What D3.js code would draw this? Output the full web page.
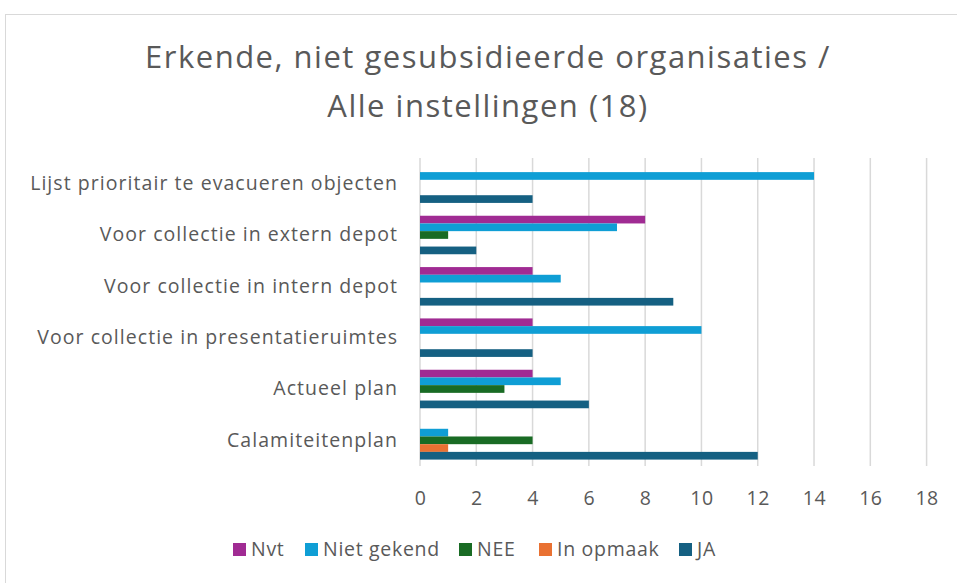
<!DOCTYPE html>
<html><head><meta charset="utf-8">
<script src="https://cdn.jsdelivr.net/npm/d3@7"></script>
<style>html,body{margin:0;padding:0;background:#fff;}svg{display:block;}</style>
</head><body>
<script>
const categories = ["Lijst prioritair te evacueren objecten","Voor collectie in extern depot","Voor collectie in intern depot","Voor collectie in presentatieruimtes","Actueel plan","Calamiteitenplan"];
const seriesNames = ["Nvt","Niet gekend","NEE","In opmaak","JA"];
const seriesColors = ["#A02B93","#0F9ED5","#196B24","#E97132","#156082"];
const nvt        = [0,8,4,4,4,0];
const nietGekend = [14,7,5,10,5,1];
const nee        = [0,1,0,0,3,4];
const inOpmaak   = [0,0,0,0,0,1];
const ja         = [4,2,9,4,6,12];
const seriesValues = [nvt, nietGekend, nee, inOpmaak, ja];
const xTicks = [0,2,4,6,8,10,12,14,16,18];
const titleLines = ["Erkende, niet gesubsidieerde organisaties /","Alle instellingen (18)"];

(function(){
const W = 957, H = 583;
const font = "'Open Sans', sans-serif";
const svg = d3.select("body").append("svg").attr("width", W).attr("height", H);
svg.append("rect").attr("x",5.5).attr("y",14.5).attr("width",W).attr("height",H).attr("fill","#fff").attr("stroke","#D9D9D9");

const pl = 420, pr = 926.6, pt = 158, pb = 466;
const x = d3.scaleLinear().domain([0,18]).range([pl,pr]);
const y0 = d3.scaleBand().domain(categories).range([pt,pb]).paddingInner(0.25).paddingOuter(0.125);
const y1 = d3.scaleBand().domain(seriesNames).range([0,y0.bandwidth()]);

svg.append("g").selectAll("line").data(xTicks).join("line")
  .attr("x1",d=>x(d)).attr("x2",d=>x(d)).attr("y1",pt).attr("y2",pb)
  .attr("stroke","#D9D9D9").attr("stroke-width",1.5);

const g = svg.append("g");
categories.forEach((c,ci)=>{
  seriesNames.forEach((s,si)=>{
    const v = seriesValues[si][ci];
    if (v>0) g.append("rect").attr("x",x(0)).attr("y",y0(c)+y1(s)).attr("width",x(v)-x(0)).attr("height",y1.bandwidth()).attr("fill",seriesColors[si]);
  });
});

const xAxis = d3.axisBottom(x).tickValues(xTicks).tickSize(0).tickPadding(0);
const ax = svg.append("g").attr("transform",`translate(0,${pb})`).call(xAxis);
ax.select(".domain").remove();
ax.selectAll("text").attr("dy",null).attr("y",39).attr("fill","#595959").style("font-family",font).style("font-size","19.5px").style("letter-spacing","0.5px");

const yAxis = d3.axisLeft(y0).tickSize(0).tickPadding(0);
const ay = svg.append("g").attr("transform",`translate(398,0)`).call(yAxis);
ay.select(".domain").remove();
ay.selectAll("text").attr("fill","#595959").style("font-family",font).style("font-size","19.5px").style("letter-spacing","1.05px");

svg.append("g").selectAll("text").data(titleLines).join("text")
  .attr("x",488).attr("y",(d,i)=>68+i*49).attr("text-anchor","middle")
  .attr("fill","#595959").style("font-family",font).style("font-size","31px").style("letter-spacing","1.5px").text(d=>d);

const legX = [233,305,459,539,679];
const leg = svg.append("g");
seriesNames.forEach((s,i)=>{
  leg.append("rect").attr("x",legX[i]).attr("y",543).attr("width",13).attr("height",13).attr("fill",seriesColors[i]);
  leg.append("text").attr("x",legX[i]+18).attr("y",556).attr("fill","#595959").style("font-family",font).style("font-size","19.5px").style("letter-spacing","0.7px").text(s);
});
})();
</script>
</body></html>
